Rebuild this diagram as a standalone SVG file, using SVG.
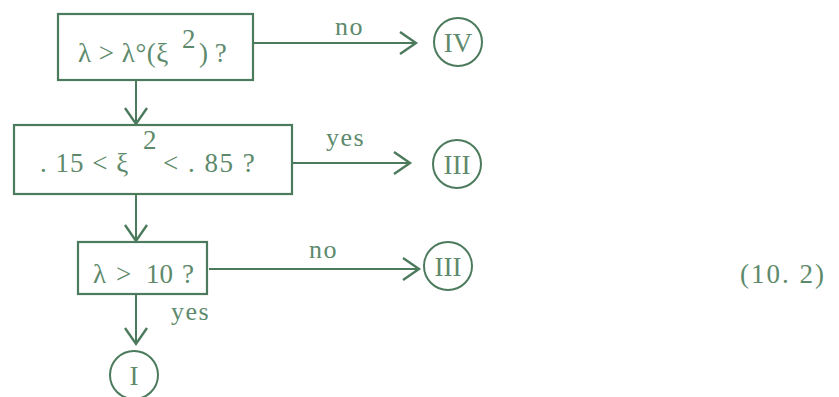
<svg xmlns="http://www.w3.org/2000/svg" width="839" height="397" viewBox="0 0 839 397">
<style>
.b{fill:none;stroke:#4c7a5c;stroke-width:2.2}
.c{fill:none;stroke:#4c7a5c;stroke-width:2}
.t{font-family:"Liberation Serif",serif;fill:#5e8a6c;font-size:27px}
.l{font-family:"Liberation Serif",serif;fill:#5e8a6c;font-size:26px;letter-spacing:1.5px}
</style>
<defs>
<marker id="ah" markerUnits="userSpaceOnUse" markerWidth="40" markerHeight="40" viewBox="-20 -20 40 40" refX="0" refY="0" orient="auto">
<path d="M-16,-11 L0,0 L-16,11" fill="none" stroke="#4c7a5c" stroke-width="2.4"/>
</marker>
</defs>
<g id="connectors">
<line class="c" x1="253" y1="43" x2="416" y2="43" marker-end="url(#ah)"/>
<line class="c" x1="136" y1="80" x2="136" y2="124" marker-end="url(#ah)"/>
<line class="c" x1="293" y1="163" x2="410" y2="163" marker-end="url(#ah)"/>
<line class="c" x1="136" y1="194" x2="136" y2="241" marker-end="url(#ah)"/>
<line class="c" x1="209" y1="269" x2="419" y2="269" marker-end="url(#ah)"/>
<line class="c" x1="136" y1="294" x2="136" y2="344" marker-end="url(#ah)"/>
<text class="l" x="335" y="35">no</text>
<text class="l" x="326" y="146">yes</text>
<text class="l" x="309" y="258">no</text>
<text class="l" x="171" y="320">yes</text>
</g>
<g id="box1">
<rect class="b" x="58" y="14" width="195" height="66"/>
<text class="t" x="78" y="62" letter-spacing="0.5">λ &gt; λ°(ξ</text>
<text class="t" x="182" y="48">2</text>
<text class="t" x="199" y="62">) ?</text>
</g>
<g id="box2">
<rect class="b" x="14" y="125" width="278" height="69"/>
<text class="t" x="40" y="172" letter-spacing="1">. 15 &lt; ξ</text>
<text class="t" x="143" y="149">2</text>
<text class="t" x="163" y="172" letter-spacing="1.5">&lt; . 85 ?</text>
</g>
<g id="box3">
<rect class="b" x="78" y="242" width="129" height="52"/>
<text class="t" y="283"><tspan x="93">λ</tspan><tspan x="116">&gt;</tspan><tspan x="146">10</tspan><tspan x="182">?</tspan></text>
</g>
<g id="nodeIV">
<circle class="c" cx="458" cy="42" r="24"/>
<text class="t" x="458" y="52" text-anchor="middle">IV</text>
</g>
<g id="nodeIII_a">
<circle class="c" cx="457" cy="164" r="24"/>
<text class="t" x="457" y="174" text-anchor="middle">III</text>
</g>
<g id="nodeIII_b">
<circle class="c" cx="448" cy="266" r="24"/>
<text class="t" x="448" y="276" text-anchor="middle">III</text>
</g>
<g id="nodeI">
<circle class="c" cx="134" cy="375" r="24"/>
<text class="t" x="134" y="385" text-anchor="middle">I</text>
</g>
<text class="t" x="740" y="283" letter-spacing="2">(10. 2)</text>
</svg>
